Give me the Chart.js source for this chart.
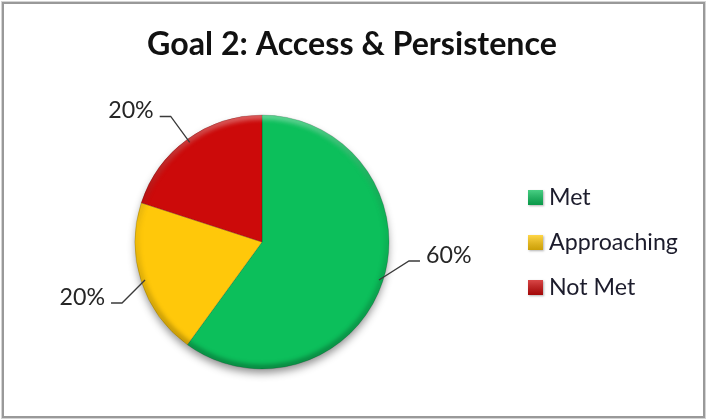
<!DOCTYPE html>
<html>
<head>
<meta charset="utf-8">
<title>Goal 2: Access & Persistence</title>
<script src="https://cdn.jsdelivr.net/npm/chart.js@4.4.1/dist/chart.umd.min.js"></script>
<style>
  html, body { margin: 0; padding: 0; background: #fff; }
  #wrap { width: 714px; height: 420px; }
</style>
</head>
<body>
<div id="wrap"><canvas id="goalPie" width="714" height="420"></canvas></div>
<script>
// data
const chartTitle = 'Goal 2: Access & Persistence';
const categories = ['Met', 'Approaching', 'Not Met'];
const shares = [60, 20, 20];

// look
const sliceColors = ['#0cbf5b', '#ffc80a', '#cc0a0a'];
const fontFamily = 'Lato, "Open Sans", "DejaVu Sans", sans-serif';
// elbow of each leader line, relative to the slice edge point
const leaderElbows = [[30, -19], [-23, 23], [-19, -26]];

// pick a font size so a string comes out at a given width
function fitFont(text, weight, width) {
    const c = document.createElement('canvas').getContext('2d');
    c.font = weight + ' 100px ' + fontFamily;
    return 100 * width / c.measureText(text).width;
}
const titleSize = fitFont(chartTitle, 'bold', 410);
const textSize = fitFont('Approaching', 'normal', 129);

const piePainter = {
    id: 'piePainter',
    beforeDatasetsDraw(chart) {
        // soft drop shadow under the whole pie
        const arc = chart.getDatasetMeta(0).data[0];
        const { x, y, outerRadius } = arc.getProps(['x', 'y', 'outerRadius'], true);
        const ctx = chart.ctx;
        ctx.save();
        ctx.shadowColor = 'rgba(0,0,0,0.45)';
        ctx.shadowBlur = 9;
        ctx.shadowOffsetY = 5;
        ctx.fillStyle = '#fff';
        ctx.beginPath();
        ctx.arc(x, y, outerRadius - 1, 0, Math.PI * 2);
        ctx.fill();
        ctx.restore();
    },
    afterDatasetsDraw(chart) {
        const ctx = chart.ctx;
        const meta = chart.getDatasetMeta(0);
        const { x, y, outerRadius: r } = meta.data[0].getProps(['x', 'y', 'outerRadius'], true);

        // bevelled rim: light on top, darker on the bottom
        ctx.save();
        ctx.beginPath();
        ctx.arc(x, y, r, 0, Math.PI * 2);
        ctx.clip();
        ctx.filter = 'blur(2px)';
        const rim = ctx.createLinearGradient(0, y - r, 0, y + r);
        rim.addColorStop(0, 'rgba(255,255,255,0.35)');
        rim.addColorStop(0.45, 'rgba(0,0,0,0.05)');
        rim.addColorStop(1, 'rgba(0,0,0,0.28)');
        ctx.strokeStyle = rim;
        ctx.lineWidth = 7;
        ctx.beginPath();
        ctx.arc(x, y, r - 1, 0, Math.PI * 2);
        ctx.stroke();
        ctx.restore();

        // percentage labels with leader lines
        ctx.save();
        ctx.font = textSize + 'px ' + fontFamily;
        ctx.textBaseline = 'alphabetic';
        meta.data.forEach((el, i) => {
            const p = el.getProps(['startAngle', 'endAngle'], true);
            const mid = (p.startAngle + p.endAngle) / 2;
            const ex = x + Math.cos(mid) * (r - 4);
            const ey = y + Math.sin(mid) * (r - 4);
            const [dx, dy] = leaderElbows[i];
            const side = dx > 0 ? 1 : -1;
            const kx = ex + dx, ky = ey + dy;
            const hx = kx + side * 11;
            ctx.strokeStyle = '#3a3a3a';
            ctx.lineWidth = 1.3;
            ctx.beginPath();
            ctx.moveTo(ex, ey);
            ctx.lineTo(kx, ky);
            ctx.lineTo(hx, ky);
            ctx.stroke();
            ctx.fillStyle = '#262626';
            ctx.textAlign = side > 0 ? 'left' : 'right';
            ctx.fillText(shares[i] + '%', hx + side * 6, ky + 1.5);
        });
        ctx.restore();
    },
    afterDraw(chart) {
        const ctx = chart.ctx;
        ctx.save();

        // outer frame
        ctx.strokeStyle = '#d4d4d4';
        ctx.lineWidth = 1;
        ctx.strokeRect(1.5, 1.5, 704, 417);
        ctx.strokeStyle = '#999';
        ctx.lineWidth = 2;
        ctx.strokeRect(3, 3, 701, 414);

        // title
        ctx.fillStyle = '#111';
        ctx.font = 'bold ' + titleSize + 'px ' + fontFamily;
        ctx.textAlign = 'center';
        ctx.textBaseline = 'alphabetic';
        ctx.fillText(chartTitle, 352, 55);

        // legend
        ctx.font = textSize + 'px ' + fontFamily;
        ctx.textAlign = 'left';
        categories.forEach((name, i) => {
            const top = 190 + i * 45;
            ctx.save();
            ctx.shadowColor = 'rgba(0,0,0,0.3)';
            ctx.shadowBlur = 2;
            ctx.shadowOffsetX = 1;
            ctx.shadowOffsetY = 1;
            ctx.fillStyle = sliceColors[i];
            ctx.fillRect(528, top, 15, 15);
            ctx.restore();
            const g = ctx.createLinearGradient(0, top, 0, top + 15);
            g.addColorStop(0, 'rgba(255,255,255,0.25)');
            g.addColorStop(1, 'rgba(0,0,0,0.2)');
            ctx.fillStyle = g;
            ctx.fillRect(528, top, 15, 15);
            ctx.fillStyle = '#1c1c2c';
            ctx.fillText(name, 549, top + 15);
        });
        ctx.restore();
    }
};

new Chart(document.getElementById('goalPie'), {
    type: 'pie',
    data: {
        labels: categories,
        datasets: [{
            data: shares,
            backgroundColor: sliceColors,
            borderColor: 'rgba(0,0,0,0.18)',
            borderWidth: 1,
            hoverOffset: 0,
            hoverBorderWidth: 1
        }]
    },
    options: {
        responsive: false,
        animation: false,
        events: [],
        radius: 127,
        layout: { padding: { left: 135, right: 325, top: 115, bottom: 51 } },
        plugins: {
            legend: { display: false },
            title: { display: false },
            tooltip: { enabled: false }
        }
    },
    plugins: [piePainter]
});
</script>
</body>
</html>
